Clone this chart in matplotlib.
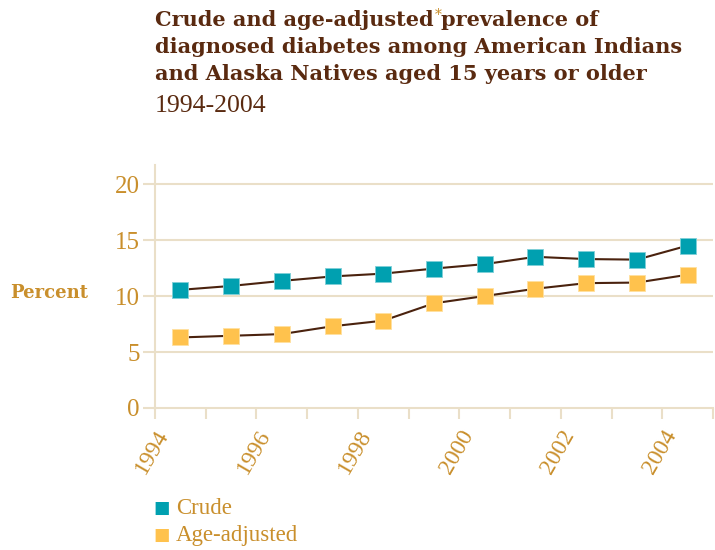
import numpy as np
import matplotlib.pyplot as plt

# values (points sit mid-year)
years = [1994, 1995, 1996, 1997, 1998, 1999, 2000, 2001, 2002, 2003, 2004]
crude = [10.55, 10.9, 11.35, 11.75, 12.0, 12.45, 12.85, 13.5, 13.3, 13.25, 14.5]
age_adjusted = [6.3, 6.45, 6.6, 7.3, 7.8, 9.35, 10.0, 10.65, 11.15, 11.2, 11.9]
yticks = [0, 5, 10, 15, 20]
xlabels = [1994, 1996, 1998, 2000, 2002, 2004]

brown = "#5a2a10"
line_col = "#4a220e"
gold = "#c98f2c"
grid_col = "#eadfc8"
teal = "#00a0b0"
yellow = "#ffc24d"

fig = plt.figure(figsize=(7.15, 5.5), dpi=100)
ax = fig.add_axes([155 / 715, 1 - 408 / 550, 558 / 715, 243 / 550])

x = np.array(years) + 0.5
ax.plot(x, crude, color=line_col, lw=1.5, zorder=2)
ax.plot(x, age_adjusted, color=line_col, lw=1.5, zorder=2)
ax.scatter(x, crude, marker="s", s=130, color=teal, edgecolor="#7fd0d8", lw=0.6, zorder=3)
ax.scatter(x, age_adjusted, marker="s", s=130, color=yellow, edgecolor="#ffe0a0", lw=0.6, zorder=3)

ax.set_xlim(1994, 2005)
ax.set_ylim(0, 21.7)
ax.set_yticks(yticks)
ax.set_xticks(np.arange(1994, 2006))
ax.set_xticklabels([str(y) if y in xlabels else "" for y in range(1994, 2006)])
for v in yticks[1:]:
    ax.axhline(v, color=grid_col, lw=1.5, zorder=1)

for s in ["top", "right"]:
    ax.spines[s].set_visible(False)
for s in ["left", "bottom"]:
    ax.spines[s].set_color(grid_col)
    ax.spines[s].set_linewidth(1.5)
ax.tick_params(axis="x", colors=grid_col, width=1.5, length=8, direction="out")
ax.tick_params(axis="y", colors=grid_col, width=1.5, length=9, direction="out")
for lab in ax.get_xticklabels():
    lab.set_color(gold)
    lab.set_fontfamily("Liberation Serif")
    lab.set_fontsize(17)
    lab.set_rotation(60)
    lab.set_ha("right")
    lab.set_va("top")
    lab.set_rotation_mode("anchor")
for lab in ax.get_yticklabels():
    lab.set_color(gold)
    lab.set_fontfamily("Liberation Serif")
    lab.set_fontsize(18)
ax.tick_params(axis="y", pad=2)
ax.tick_params(axis="x", pad=5)

fig.text(10 / 715, 1 - 293 / 550, "Percent", color=gold, fontsize=13,
         fontweight="bold", family="DejaVu Serif", va="center")

# title
title_kw = dict(color=brown, fontsize=15, fontweight="bold", family="DejaVu Serif", va="baseline")
fig.canvas.draw()
r = fig.canvas.get_renderer()
t1 = fig.text(155 / 715, 1 - 26 / 550, "Crude and age-adjusted", **title_kw)
bb = t1.get_window_extent(r)
star = fig.text(bb.x1 / 715 + 0.001, 1 - 19 / 550, "*", color=gold, fontsize=10,
                family="DejaVu Serif", va="baseline")
sb = star.get_window_extent(r)
fig.text(sb.x1 / 715, 1 - 26 / 550, "prevalence of", **title_kw)
fig.text(155 / 715, 1 - 53 / 550, "diagnosed diabetes among American Indians", **title_kw)
fig.text(155 / 715, 1 - 80 / 550, "and Alaska Natives aged 15 years or older", **title_kw)
fig.text(155 / 715, 1 - 112 / 550, "1994-2004", color=brown, fontsize=18.5,
         family="Liberation Serif", va="baseline")

# legend
for yy, c, name in [(508, teal, "Crude"), (535, yellow, "Age-adjusted")]:
    fig.text(153 / 715, 1 - yy / 550, "\u25a0", color=c, fontsize=12.5, va="center",
             family="DejaVu Sans")
    fig.text(176 / 715, 1 - yy / 550, name, color=gold, fontsize=16.5, va="center",
             family="Liberation Serif")

fig.savefig("out.png", dpi=100)
